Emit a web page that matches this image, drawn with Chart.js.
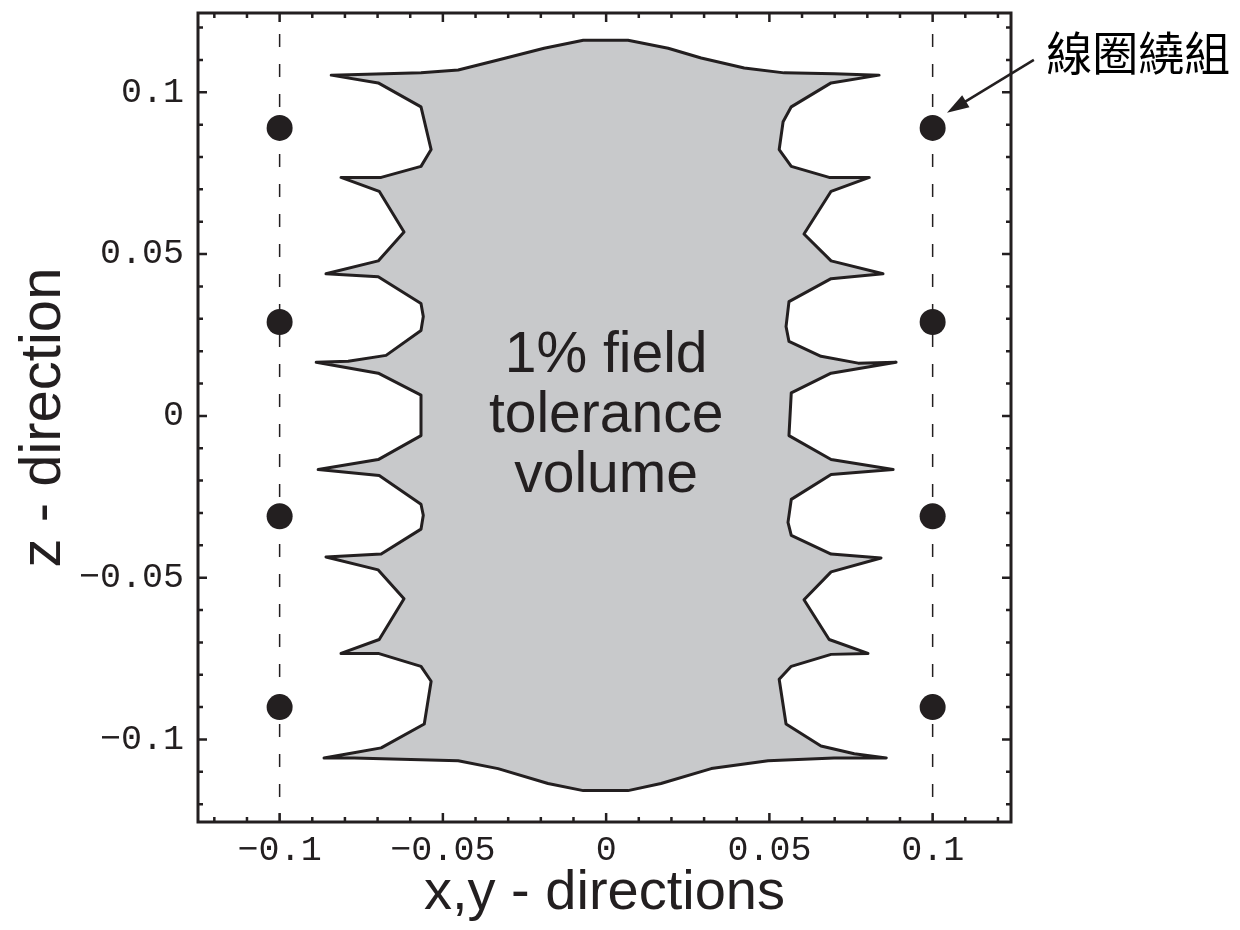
<!DOCTYPE html>
<html>
<head>
<meta charset="utf-8">
<title>1% field tolerance volume</title>
<script src="https://cdn.jsdelivr.net/npm/chart.js@4.4.1/dist/chart.umd.min.js"></script>
<style>
  body { margin: 0; background: #fff; }
  canvas { display: block; }
</style>
</head>
<body>
<canvas id="toleranceChart" width="1240" height="930"></canvas>
<script>
// labelled ticks (same on both axes)
const tickValues = [-0.1, -0.05, 0, 0.05, 0.1];
const tickLabels = ["−0.1", "−0.05", "0", "0.05", "0.1"];

// coil windings
const coilX = [-0.1, 0.1];
const coilZ = [0.089, 0.029, -0.031, -0.09];

// dashed guides through the coils
const guideTop = 0.118;
const guideBottom = -0.1255;

// tolerance boundary [x, z], right side top -> bottom
const rightEdge = [
  [0, 0.1161], [0.0067, 0.1161], [0.019, 0.1136], [0.0291, 0.1106], [0.0423, 0.1075],
  [0.0545, 0.106], [0.0698, 0.1057], [0.0836, 0.1053], [0.0689, 0.1029], [0.0567, 0.0955],
  [0.0542, 0.0909], [0.053, 0.0823], [0.0567, 0.0771], [0.0683, 0.0737], [0.0806, 0.0737],
  [0.0689, 0.0694], [0.0606, 0.0562], [0.0689, 0.0479], [0.0848, 0.0439], [0.0689, 0.0424],
  [0.056, 0.0353], [0.0551, 0.0276], [0.056, 0.023], [0.0658, 0.0184], [0.0772, 0.0163],
  [0.0888, 0.0166], [0.0689, 0.0132], [0.0567, 0.0071], [0.056, -0.0061], [0.0689, -0.0135],
  [0.0879, -0.0166], [0.0689, -0.0181], [0.0567, -0.0258], [0.0557, -0.0329], [0.0567, -0.0369],
  [0.0689, -0.0427], [0.0842, -0.0439], [0.0689, -0.0482], [0.0606, -0.0568], [0.0683, -0.0691],
  [0.0802, -0.0734], [0.0689, -0.0737], [0.0567, -0.0774], [0.053, -0.0814], [0.0551, -0.0952],
  [0.0658, -0.102], [0.076, -0.1044], [0.0858, -0.1057], [0.0698, -0.1057], [0.0496, -0.1066],
  [0.0322, -0.109], [0.0168, -0.1136], [0.0067, -0.1158],
];

// left side bottom -> top
const leftEdge = [
  [0, -0.1158], [-0.007, -0.1158], [-0.0178, -0.1136], [-0.0331, -0.109], [-0.0453, -0.1066],
  [-0.0772, -0.1057], [-0.0864, -0.1057], [-0.079, -0.1044], [-0.0689, -0.1026], [-0.0557, -0.0952],
  [-0.0536, -0.082], [-0.0567, -0.0774], [-0.0698, -0.0734], [-0.0812, -0.0734], [-0.0695, -0.0691],
  [-0.0619, -0.0565], [-0.0698, -0.0476], [-0.0858, -0.0436], [-0.0689, -0.0427], [-0.0567, -0.035],
  [-0.056, -0.0307], [-0.0567, -0.0273], [-0.0695, -0.0184], [-0.0882, -0.0166], [-0.0698, -0.0135],
  [-0.0567, -0.0061], [-0.0567, 0.0064], [-0.0698, 0.0132], [-0.0888, 0.0166], [-0.079, 0.0169],
  [-0.0674, 0.0187], [-0.0567, 0.0264], [-0.056, 0.0307], [-0.0567, 0.0347], [-0.0698, 0.043],
  [-0.0858, 0.0439], [-0.0698, 0.0479], [-0.0619, 0.0568], [-0.0695, 0.0694], [-0.0812, 0.0737],
  [-0.0689, 0.0737], [-0.0567, 0.0771], [-0.0536, 0.0823], [-0.0567, 0.0955], [-0.0698, 0.1029],
  [-0.0842, 0.1053], [-0.0567, 0.106], [-0.0453, 0.1069], [-0.0331, 0.11], [-0.019, 0.1136],
  [-0.007, 0.1161],
];

const centerText = ["1% field", "tolerance", "volume"];
const coilLabel = "線圈繞組";
const coilLabelAt = [0.1348, 0.1124];
const arrowFrom = [0.131, 0.11];
const arrowTo = [0.1044, 0.0937];

const ink = "#231f20";
const tickFont = { family: '"Liberation Mono", "Courier New", monospace', size: 35 };

const outline = rightEdge
  .concat(leftEdge, [rightEdge[0]])
  .map(([x, y]) => ({ x, y }));

const coils = [];
coilX.forEach((x) => {
  coilZ.forEach((z) => coils.push({ x, y: z }));
});

const guides = coilX.map((x) => ({
  data: [{ x, y: guideTop }, { x, y: guideBottom }],
  showLine: true,
  borderColor: ink,
  borderWidth: 1.5,
  borderDash: [13, 17],
  pointRadius: 0,
  order: 2,
}));

// frame with inward ticks on all four sides
const frameTicks = {
  id: "frameTicks",
  afterDatasetsDraw(chart) {
    const { ctx, chartArea: a } = chart;
    const xs = chart.scales.x;
    const ys = chart.scales.y;
    ctx.save();
    ctx.strokeStyle = ink;
    ctx.lineWidth = 3;
    ctx.strokeRect(a.left, a.top, a.right - a.left, a.bottom - a.top);
    ctx.lineWidth = 2.5;
    ctx.beginPath();
    for (let i = -12; i <= 12; i++) {
      const v = i / 100;
      const len = i % 5 === 0 ? 9 : 5;
      const px = xs.getPixelForValue(v);
      const py = ys.getPixelForValue(v);
      ctx.moveTo(px, a.bottom);
      ctx.lineTo(px, a.bottom - len);
      ctx.moveTo(px, a.top);
      ctx.lineTo(px, a.top + len);
      ctx.moveTo(a.left, py);
      ctx.lineTo(a.left + len, py);
      ctx.moveTo(a.right, py);
      ctx.lineTo(a.right - len, py);
    }
    ctx.stroke();
    ctx.restore();
  },
  afterDraw(chart) {
    const { ctx } = chart;
    const xs = chart.scales.x;
    const ys = chart.scales.y;

    ctx.save();
    ctx.fillStyle = ink;
    ctx.font = '57px "Liberation Sans", Arial, sans-serif';
    ctx.textAlign = "center";
    ctx.textBaseline = "middle";
    const cx = xs.getPixelForValue(0);
    const cy = ys.getPixelForValue(0);
    centerText.forEach((line, i) => {
      ctx.fillText(line, cx, cy + (i - 1) * 60);
    });

    // arrow to the top right coil
    const fx = xs.getPixelForValue(arrowFrom[0]);
    const fy = ys.getPixelForValue(arrowFrom[1]);
    const tx = xs.getPixelForValue(arrowTo[0]);
    const ty = ys.getPixelForValue(arrowTo[1]);
    const ang = Math.atan2(ty - fy, tx - fx);
    const head = 22;
    ctx.strokeStyle = ink;
    ctx.lineWidth = 2.5;
    ctx.beginPath();
    ctx.moveTo(fx, fy);
    ctx.lineTo(tx - Math.cos(ang) * (head - 4), ty - Math.sin(ang) * (head - 4));
    ctx.stroke();
    ctx.beginPath();
    ctx.moveTo(tx, ty);
    ctx.lineTo(tx - head * Math.cos(ang) + 7 * Math.sin(ang), ty - head * Math.sin(ang) - 7 * Math.cos(ang));
    ctx.lineTo(tx - head * Math.cos(ang) - 7 * Math.sin(ang), ty - head * Math.sin(ang) + 7 * Math.cos(ang));
    ctx.closePath();
    ctx.fill();

    ctx.fillStyle = "#000";
    ctx.font = '46px "Noto Sans CJK TC", sans-serif';
    ctx.textAlign = "left";
    ctx.fillText(coilLabel, xs.getPixelForValue(coilLabelAt[0]), ys.getPixelForValue(coilLabelAt[1]));
    ctx.restore();
  },
};

const setTicks = (scale) => {
  scale.ticks = tickValues.map((v) => ({ value: v }));
};

// the end labels sit well inside the frame, so drop the label overhang padding
const noOverhang = (scale) => {
  scale.paddingTop = 0;
  scale.paddingBottom = 0;
  scale.paddingLeft = 0;
  scale.paddingRight = 0;
};

new Chart(document.getElementById("toleranceChart"), {
  type: "scatter",
  data: {
    datasets: [
      {
        data: coils,
        pointRadius: 13,
        pointBackgroundColor: ink,
        pointBorderWidth: 0,
        order: 0,
      },
      {
        data: outline,
        showLine: true,
        fill: "shape",
        backgroundColor: "#c8c9cb",
        borderColor: ink,
        borderWidth: 3,
        borderJoinStyle: "round",
        tension: 0,
        pointRadius: 0,
        order: 1,
      },
      ...guides,
    ],
  },
  options: {
    responsive: false,
    animation: false,
    events: [],
    layout: { padding: { top: 8, right: 229, left: 0, bottom: 0 } },
    plugins: {
      legend: { display: false },
      tooltip: { enabled: false },
    },
    scales: {
      x: {
        type: "linear",
        min: -0.125,
        max: 0.124,
        border: { display: false },
        grid: { display: false, drawTicks: false },
        afterBuildTicks: setTicks,
        afterFit: (scale) => {
          scale.height = 108;
          noOverhang(scale);
        },
        ticks: {
          autoSkip: false,
          maxRotation: 0,
          padding: 8,
          color: ink,
          font: tickFont,
          callback: (value, index) => tickLabels[index],
        },
        title: {
          display: true,
          text: "x,y - directions",
          color: ink,
          font: { family: '"Liberation Sans", Arial, sans-serif', size: 56 },
          padding: { top: 0, bottom: 3 },
        },
      },
      y: {
        type: "linear",
        min: -0.1255,
        max: 0.1245,
        border: { display: false },
        grid: { display: false, drawTicks: false },
        afterBuildTicks: setTicks,
        afterFit: (scale) => {
          scale.width = 198;
          noOverhang(scale);
        },
        ticks: {
          autoSkip: false,
          padding: 14,
          color: ink,
          font: tickFont,
          callback: (value, index) => tickLabels[index],
        },
        title: {
          display: true,
          text: "z - direction",
          color: ink,
          font: { family: '"Liberation Sans", Arial, sans-serif', size: 58 },
          padding: { top: 9, bottom: 0 },
        },
      },
    },
  },
  plugins: [frameTicks],
});
</script>
</body>
</html>
